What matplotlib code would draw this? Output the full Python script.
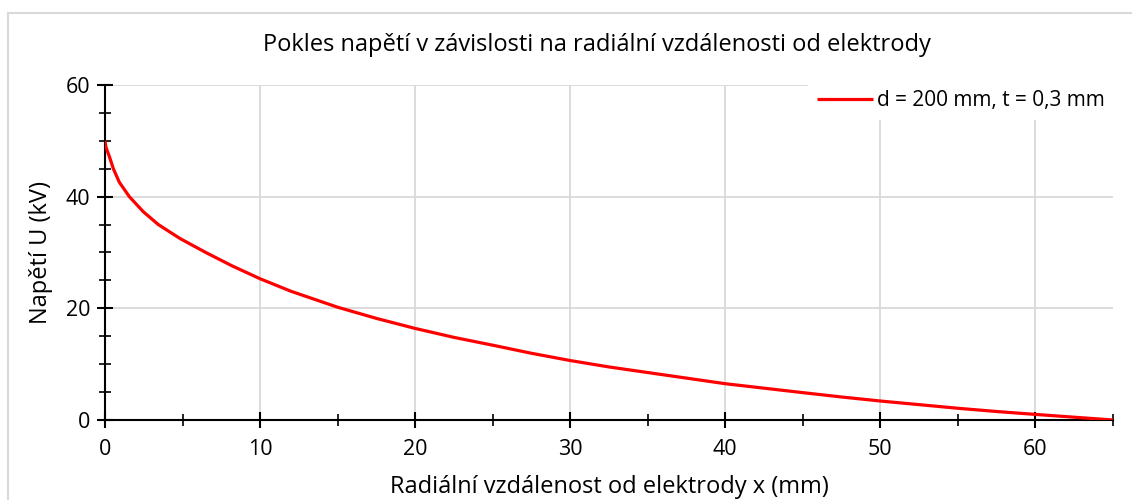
import numpy as np
import matplotlib.pyplot as plt
from matplotlib.patches import Rectangle
from matplotlib.ticker import MultipleLocator

# values
x_mm = [0, 0.05, 0.12, 0.28, 0.54, 0.92, 1.57, 2.47, 3.44, 4.84, 6.5, 8.2,
        10, 12, 15, 17.5, 20, 22.5, 25, 27.5, 30, 32.5, 35, 37.5, 40,
        42.5, 45, 47.5, 50, 52.5, 55, 57.5, 60, 62.5, 65]
u_kv = [50, 49.0, 48.4, 47.2, 45.0, 42.6, 40.0, 37.3, 35.0, 32.5, 30.0, 27.6,
        25.3, 23.05, 20.2, 18.2, 16.4, 14.8, 13.4, 11.95, 10.65, 9.5, 8.5, 7.5, 6.5,
        5.7, 4.9, 4.12, 3.4, 2.75, 2.1, 1.52, 1.0, 0.5, 0]
series_label = "d = 200 mm, t = 0,3 mm"

plt.rcParams["font.family"] = ["Open Sans", "DejaVu Sans"]

W, H = 1132, 500
fig = plt.figure(figsize=(W / 100, H / 100), dpi=100)
ax = fig.add_axes([105 / W, 1 - 420 / H, (1113 - 105) / W, (420 - 85) / H])

# outer chart border (cut off at right/bottom like the screenshot)
fig.patches.append(Rectangle((8 / W, -0.1), 1.2, 1 - 13 / H + 0.1,
                             transform=fig.transFigure, fill=False,
                             edgecolor="#d9d9d9", linewidth=1.5, zorder=0))

ax.plot(x_mm, u_kv, color="#ff0000", linewidth=2.3, label=series_label,
        solid_capstyle="butt", solid_joinstyle="round", zorder=3)

ax.set_xlim(0, 65)
ax.set_ylim(0, 60)
ax.xaxis.set_major_locator(MultipleLocator(10))
ax.xaxis.set_minor_locator(MultipleLocator(5))
ax.yaxis.set_major_locator(MultipleLocator(20))
ax.yaxis.set_minor_locator(MultipleLocator(5))

ax.grid(True, which="major", color="#d9d9d9", linewidth=1.3, zorder=0)
ax.set_axisbelow(True)
for s in ("top", "right"):
    ax.spines[s].set_visible(False)
for s in ("left", "bottom"):
    ax.spines[s].set_linewidth(1.5)
    ax.spines[s].set_color("black")

ax.tick_params(which="major", direction="inout", length=11, width=1.5,
               labelsize=15.5, pad=8)
ax.tick_params(which="minor", direction="inout", length=8, width=1.2)
ax.tick_params(axis="y", which="major", pad=5)

ax.set_xlabel("Radiální vzdálenost od elektrody x (mm)", fontsize=17, labelpad=11)
ax.set_ylabel("Napětí U (kV)", fontsize=17, labelpad=9)
fig.text(597 / W, 1 - 45 / H, "Pokles napětí v závislosti na radiální vzdálenosti od elektrody",
         ha="center", va="center", fontsize=17)

leg = ax.legend(loc="upper right", bbox_to_anchor=(1113 / W, 1 - 82 / H),
                bbox_transform=fig.transFigure, frameon=True, fancybox=False,
                framealpha=1, edgecolor="none", facecolor="white",
                fontsize=15, handlelength=2.7, handletextpad=0.2,
                borderpad=0.4, borderaxespad=0)

fig.savefig("out.png", dpi=100)
